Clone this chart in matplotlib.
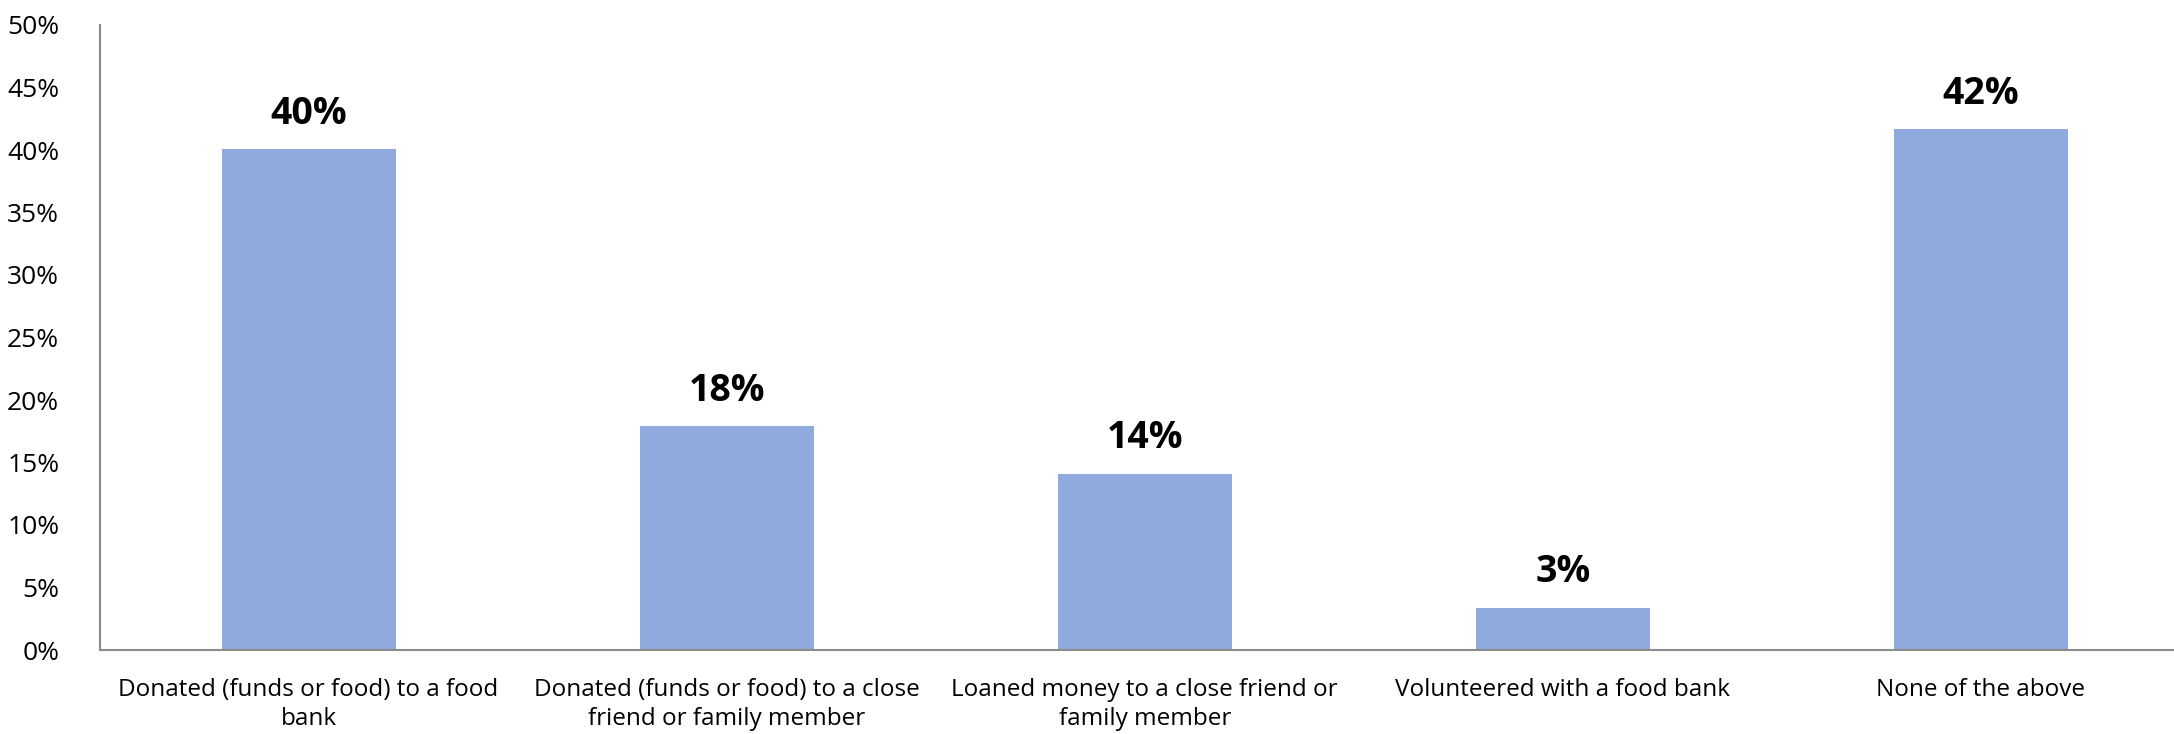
import numpy as np
import matplotlib
matplotlib.use("Agg")
import matplotlib.pyplot as plt

# respuestas (porcentaje de encuestados)
categorias = [
    "Donated (funds or food) to a food\nbank",
    "Donated (funds or food) to a close\nfriend or family member",
    "Loaned money to a close friend or\nfamily member",
    "Volunteered with a food bank",
    "None of the above",
]
valores = [40.1, 17.9, 14.1, 3.4, 41.7]
ticks_y = [0, 5, 10, 15, 20, 25, 30, 35, 40, 45, 50]

plt.rcParams['font.family'] = ['Open Sans', 'DejaVu Sans']

fig = plt.figure(figsize=(21.74, 7.34), dpi=100)
# el eje se sale un poco por la derecha, como en el original
ax = fig.add_axes([99.5 / 2174, 1 - 650 / 734, 2090.5 / 2174, 625 / 734])

x = np.arange(len(categorias))
barras = ax.bar(x, valores, width=0.416, color='#8FAADC')

for xi, v in zip(x, valores):
    ax.text(xi, v + 1.3, f"{v:.0f}%", ha='center', va='bottom',
            fontsize=27, fontweight='bold', color='black')

ax.set_xlim(-0.5, len(categorias) - 0.5)
ax.set_ylim(0, 50)
ax.set_yticks(ticks_y)
ax.set_yticklabels([f"{t}%" for t in ticks_y])
ax.set_xticks(x)
ax.set_xticklabels(categorias, linespacing=1.3)

ax.tick_params(axis='y', length=0, pad=29, labelsize=19)
ax.tick_params(axis='x', length=0, pad=20, labelsize=17.5)

for lado in ['top', 'right']:
    ax.spines[lado].set_visible(False)
for lado in ['left', 'bottom']:
    ax.spines[lado].set_color('#8c8c8c')
    ax.spines[lado].set_linewidth(1.5)

fig.savefig("out.png", dpi=100)
